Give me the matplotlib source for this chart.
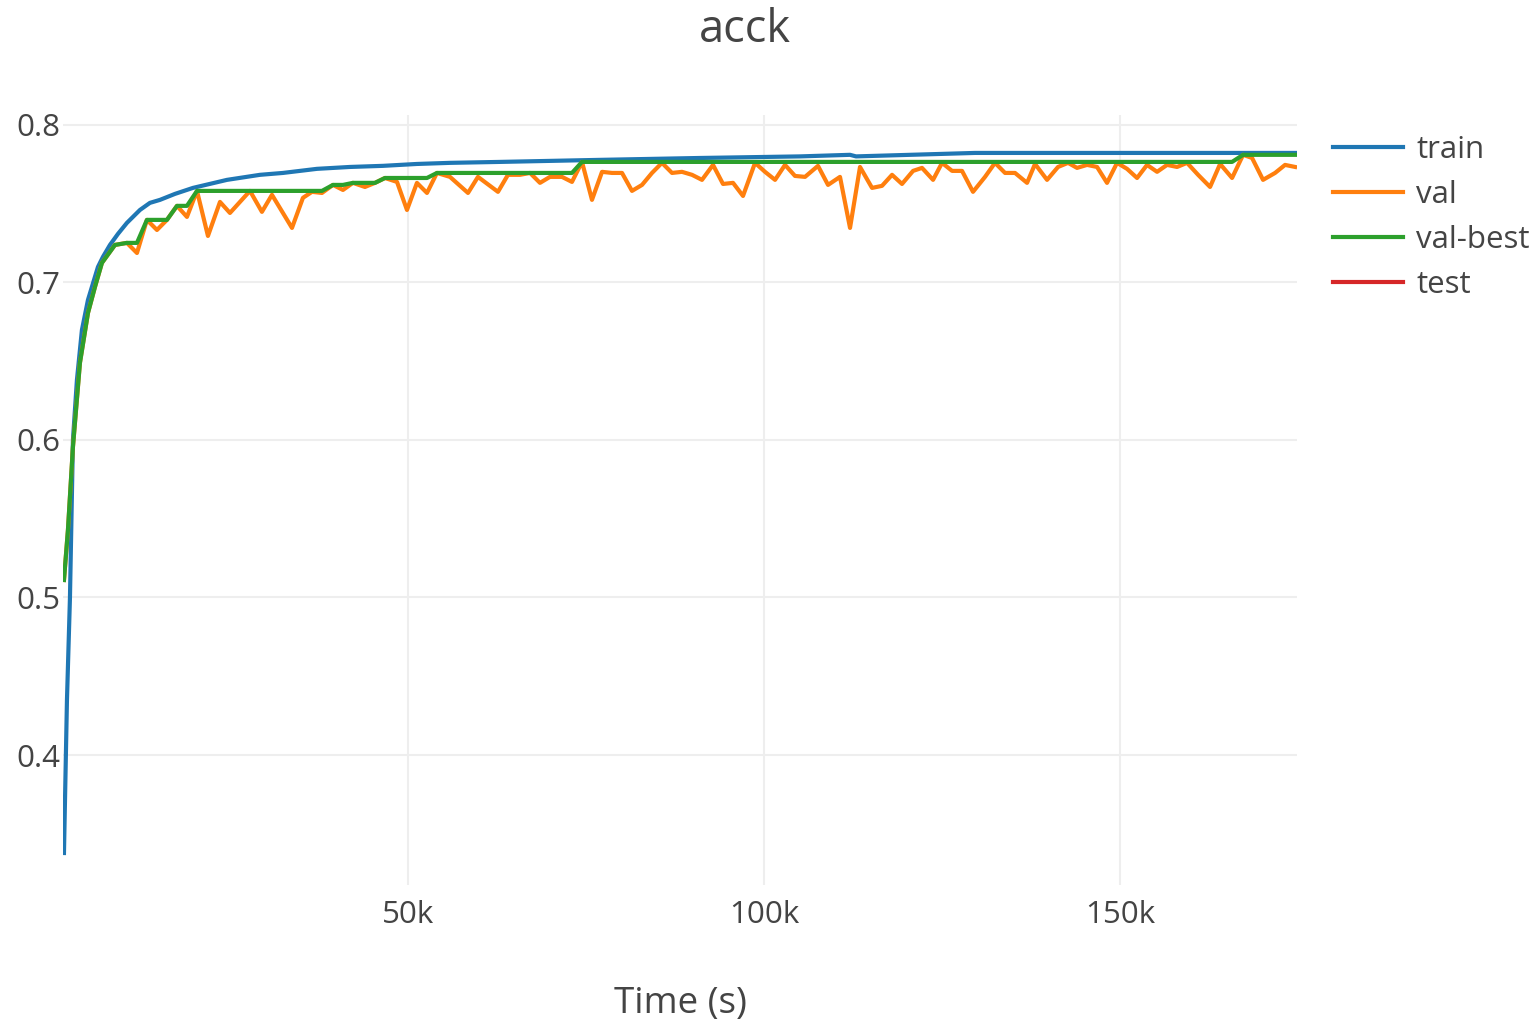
import numpy as np
import matplotlib.pyplot as plt
from matplotlib.ticker import FuncFormatter

plt.rcParams['font.family'] = ['Open Sans', 'DejaVu Sans']

# train accuracy (time in seconds)
train_t = [1690, 2110, 2530, 2950, 3510, 4210, 5060, 6460, 7160, 8150,
           9270, 10530, 12360, 13760, 15170, 17280, 19800, 24580, 29210, 32440,
           37220, 41850, 46490, 51260, 55900, 62920, 76970, 91010, 105060, 112080,
           112920, 129630, 174580]
train_acc = [0.3378, 0.4349, 0.4997, 0.6000, 0.6381, 0.6698, 0.6889, 0.7098, 0.7162, 0.7238,
             0.7308, 0.7378, 0.7460, 0.7505, 0.7524, 0.7562, 0.7600, 0.7651, 0.7683, 0.7695,
             0.7721, 0.7733, 0.7740, 0.7752, 0.7759, 0.7765, 0.7778, 0.7790, 0.7800, 0.7810,
             0.7800, 0.7822, 0.7822]

# validation accuracy
val_t = [1690, 2250, 2950, 3930, 5060, 6040, 7020, 8850, 10530, 11940,
         13340, 14750, 16150, 17560, 18960, 20370, 21910, 23600, 25000, 27810,
         29490, 30900, 33710, 35250, 36520, 37920, 39470, 40870, 42270, 43960,
         45370, 46770, 48460, 49860, 51260, 52670, 54070, 55900, 58430, 59830,
         62640, 64040, 65730, 67140, 68540, 69940, 71630, 73030, 74440, 75840,
         77250, 78650, 80060, 81460, 82870, 84270, 85670, 87080, 88480, 89890,
         91290, 92840, 94240, 95650, 97050, 98740, 100140, 101550, 102950, 104350,
         105760, 107580, 108990, 110670, 112080, 113480, 115170, 116570, 117980, 119380,
         120930, 122190, 123740, 125000, 126410, 127810, 129350, 131040, 132440, 133850,
         135250, 136940, 138060, 139750, 141290, 142700, 143960, 145370, 146770, 148170,
         149580, 150980, 152390, 153790, 155200, 156600, 158010, 159410, 160960, 162640,
         164050, 165730, 167280, 168540, 170080, 171770, 173170, 174580]
val_acc = [0.5111, 0.5429, 0.5956, 0.6489, 0.6806, 0.6971, 0.7124, 0.7238, 0.7251, 0.7187,
           0.7397, 0.7333, 0.7397, 0.7486, 0.7416, 0.7581, 0.7295, 0.7511, 0.7441, 0.7581,
           0.7448, 0.7556, 0.7346, 0.7537, 0.7575, 0.7568, 0.7619, 0.7587, 0.7632, 0.7606,
           0.7632, 0.7663, 0.7638, 0.7460, 0.7632, 0.7568, 0.7695, 0.7670, 0.7568, 0.7670,
           0.7575, 0.7683, 0.7683, 0.7695, 0.7632, 0.7670, 0.7670, 0.7638, 0.7765, 0.7524,
           0.7702, 0.7695, 0.7695, 0.7581, 0.7619, 0.7695, 0.7759, 0.7695, 0.7702, 0.7683,
           0.7651, 0.7746, 0.7625, 0.7632, 0.7549, 0.7759, 0.7702, 0.7651, 0.7746, 0.7676,
           0.7670, 0.7740, 0.7619, 0.7670, 0.7346, 0.7733, 0.7600, 0.7613, 0.7683, 0.7625,
           0.7708, 0.7727, 0.7651, 0.7759, 0.7708, 0.7708, 0.7575, 0.7670, 0.7759, 0.7695,
           0.7695, 0.7632, 0.7752, 0.7651, 0.7733, 0.7759, 0.7727, 0.7746, 0.7733, 0.7632,
           0.7759, 0.7721, 0.7663, 0.7746, 0.7702, 0.7746, 0.7733, 0.7759, 0.7683, 0.7606,
           0.7752, 0.7663, 0.7810, 0.7790, 0.7651, 0.7695, 0.7746, 0.7733]

# best validation accuracy so far (step points)
best_t = [1690, 2250, 2950, 3930, 5060, 6040, 7020, 8850, 10530, 11940,
          13340, 16150, 17560, 18960, 20370, 37920, 39470, 40870, 42270, 45370,
          46770, 52670, 54070, 73030, 74440, 165730, 167280, 174580]
best_acc = [0.5111, 0.5429, 0.5956, 0.6489, 0.6806, 0.6971, 0.7124, 0.7238, 0.7251, 0.7251,
            0.7397, 0.7397, 0.7486, 0.7486, 0.7581, 0.7581, 0.7619, 0.7619, 0.7632, 0.7632,
            0.7663, 0.7663, 0.7695, 0.7695, 0.7765, 0.7765, 0.7810, 0.7810]

# test has no points in this run
test_t = []
test_acc = []

yticks = [0.4, 0.5, 0.6, 0.7, 0.8]
xticks = [50000, 100000, 150000]

fig = plt.figure(figsize=(15.35, 10.21), dpi=100)
ax = fig.add_axes([0.041, 0.1332, 0.804, 0.7542])

lw = 3.0
ax.plot(train_t, train_acc, color='#1f77b4', lw=lw, label='train', solid_joinstyle='round')
ax.plot(val_t, val_acc, color='#ff7f0e', lw=lw, label='val', solid_joinstyle='round')
ax.plot(best_t, best_acc, color='#2ca02c', lw=lw, label='val-best', solid_joinstyle='round')
ax.plot(test_t, test_acc, color='#d62728', lw=lw, label='test')

ax.set_xlim(1545, 174860)
ax.set_ylim(0.3175, 0.8063)
ax.set_xticks(xticks)
ax.set_yticks(yticks)
ax.xaxis.set_major_formatter(FuncFormatter(lambda v, p: f'{int(v / 1000)}k'))
ax.yaxis.set_major_formatter(FuncFormatter(lambda v, p: f'{v:.1f}'))
ax.tick_params(length=0, labelsize=22.5, colors='#444444')
ax.tick_params(axis='x', pad=11)
ax.tick_params(axis='y', pad=2)
ax.grid(True, color='#eeeeee', lw=1.5)
ax.set_axisbelow(True)
for s in ax.spines.values():
    s.set_visible(False)

ax.set_xlabel('Time (s)', fontsize=26.5, color='#444444', labelpad=40)

fig.text(0.4853, 0.9706, 'acck', fontsize=32.5, color='#444444', ha='center', va='center')

leg = fig.legend(loc='upper left', bbox_to_anchor=(0.8684, 0.8678), frameon=False,
                 fontsize=22.5, handlelength=2.24, handletextpad=0.42, labelspacing=0.48,
                 borderaxespad=0, borderpad=0)
for t in leg.get_texts():
    t.set_color('#444444')

fig.savefig('out.png', dpi=100)
